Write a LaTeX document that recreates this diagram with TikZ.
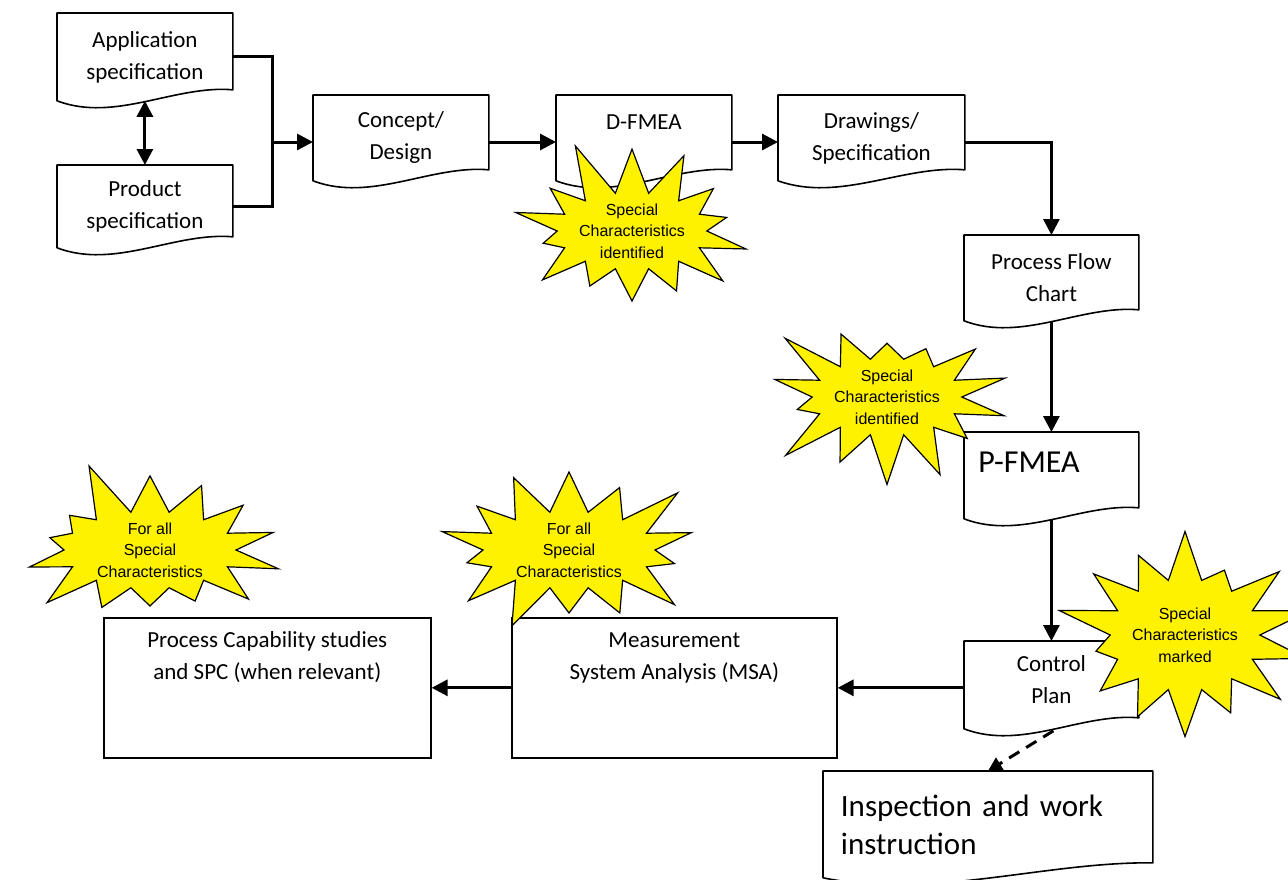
\documentclass[tikz,border=0pt]{standalone}
\usepackage{fontspec}
\setmainfont{Carlito}
\newfontfamily\arialfont{Liberation Sans}
\usepackage{tikz}
\usetikzlibrary{arrows.meta,calc,shapes.symbols}
\tikzset{
	docbox/.style={draw=none, anchor=north west, align=center, inner sep=0pt,
			font=\fontsize{11.5}{16}\selectfont},
	plainbox/.style={draw, line width=0.8pt, anchor=north west, align=center, inner sep=0pt,
			font=\fontsize{11.5}{16}\selectfont},
	docline/.style={line width=0.8pt, line join=round},
	burst/.style={starburst, draw, fill=yellow, line width=0.6pt, align=center, inner sep=0pt,
			starburst points=14, starburst point height=29pt,
			font=\arialfont\fontsize{8}{10.75}\selectfont},
	conn/.style={line width=1.5pt},
	arr/.style={conn, -{Triangle[length=8pt,width=8pt]}},
	arrtwo/.style={conn, {Triangle[length=8pt,width=8pt]}-{Triangle[length=8pt,width=8pt]}},
	dasharr/.style={conn, dashed, dash pattern=on 6pt off 4pt, -{Triangle[length=7pt,width=7pt]}}
}
\newcommand{\docoutline}[2][11]{%
	\draw[docline] (#2.north west) -- (#2.north east) -- ($(#2.south east)+(0,-#1)$)
		.. controls ($(#2.south west)!0.67!(#2.south east)+(0,-16)$)
		and ($(#2.south west)!0.33!(#2.south east)+(0,22)$) .. (#2.south west) -- cycle;}

\begin{document}
\begin{tikzpicture}[x=0.5pt, y=-0.5pt]
	\useasboundingbox (0,0) rectangle (1288,879);

	\node[docbox, minimum width=87.5pt, minimum height=43.5pt] (app) at (57,13) {Application\\specification};
	\node[docbox, minimum width=87.5pt, minimum height=41pt] (prod) at (57,165) {Product\\specification};
	\node[docbox, minimum width=87.5pt, minimum height=42.5pt] (concept) at (313,95) {Concept/\\Design};
	\node[docbox, minimum width=87.5pt, minimum height=42.5pt] (dfmea) at (556,95) {D-FMEA\\\mbox{}};
	\node[docbox, minimum width=93pt, minimum height=42.5pt] (drawspec) at (778,95) {Drawings/\\Specification};
	\node[docbox, minimum width=87pt, minimum height=42.5pt] (pfc) at (964,235) {Process Flow\\Chart};
	\node[docbox, minimum width=87pt, minimum height=43pt, text width=73pt, align=left,
		font=\fontsize{16}{19}\selectfont] (pfmea) at (964,432) {P-FMEA\\[-6pt]\mbox{}};
	\node[docbox, minimum width=87pt, minimum height=43.5pt] (cplan) at (964,641) {Control\\Plan\\[-11pt]\mbox{}};
	\node[docbox, minimum width=164.5pt, minimum height=53pt, text width=147pt, align=left,
		font=\fontsize{15.5}{19}\selectfont] (insp) at (823,771) {Inspection and work\\instruction};

	\foreach \n in {app,prod,concept,dfmea,drawspec,pfc,pfmea,cplan}
		\docoutline{\n};
	\docoutline[15]{insp};

	\node[plainbox, minimum width=162.5pt, minimum height=70pt] (msa) at (511,617)
		{Measurement\\System Analysis (MSA)\\\mbox{}\\\mbox{}};
	\node[plainbox, minimum width=163.5pt, minimum height=70pt] (pcap) at (103,617)
		{Process Capability studies\\and SPC (when relevant)\\\mbox{}\\\mbox{}};

	\coordinate (jn) at (272,142);
	\draw[arrtwo] (app.south) -- (prod.north);
	\draw[conn] (app.east) -| (jn) |- (prod.east);
	\draw[arr] (jn) -- (concept.west |- jn);
	\draw[arr] (concept.east |- jn) -- (dfmea.west |- jn);
	\draw[arr] (dfmea.east |- jn) -- (drawspec.west |- jn);
	\draw[arr] (drawspec.east |- jn) -| (pfc.north);
	\draw[arr] (pfc.south) -- (pfmea.north);
	\draw[arr] (pfmea.south) -- (cplan.north);
	\draw[arr] (cplan.west |- msa.east) -- (msa.east);
	\draw[arr] (msa.west) -- (pcap.east);
	\draw[dasharr] ($(cplan.south)+(2,2)$) -- (insp.north);

	\node[burst, minimum width=126pt, minimum height=94pt, random starburst=11] (burstdfmea) at (632,231)
		{Special\\Characteristics\\identified};
	\node[burst, minimum width=126pt, minimum height=78pt, random starburst=23] (burstpfmea) at (887,397)
		{Special\\Characteristics\\identified};
	\node[burst, minimum width=106pt, minimum height=114pt, random starburst=37] (burstcp) at (1185,635)
		{Special\\Characteristics\\marked};
	\node[burst, minimum width=144pt, minimum height=86pt, random starburst=5] (burstpcap) at (150,550)
		{For all\\Special\\Characteristics};
	\node[burst, minimum width=144pt, minimum height=86pt, random starburst=8] (burstmsa) at (569,550)
		{For all\\Special\\Characteristics};
\end{tikzpicture}
\end{document}
